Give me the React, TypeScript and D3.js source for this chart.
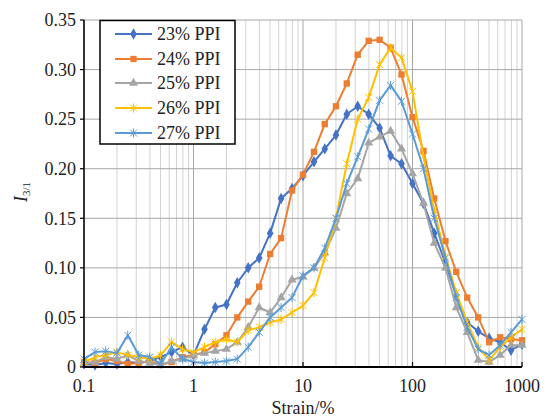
import React from 'react';
import * as d3 from 'd3';

const STRAIN = [0.1, 0.126, 0.158, 0.2, 0.251, 0.316, 0.398, 0.501, 0.631, 0.794, 1, 1.26, 1.58, 2, 2.51, 3.16, 3.98, 5.01, 6.31, 7.94, 10, 12.6, 15.8, 20, 25.1, 31.6, 39.8, 50.1, 63.1, 79.4, 100, 126, 158, 200, 251, 316, 398, 501, 631, 794, 1000];

const PPI23 = [0.003, 0.002, 0.004, 0.003, 0.005, 0.004, 0.006, 0.010, 0.015, 0.020, 0.012, 0.038, 0.060, 0.063, 0.085, 0.100, 0.110, 0.135, 0.170, 0.180, 0.193, 0.207, 0.220, 0.234, 0.255, 0.263, 0.255, 0.241, 0.213, 0.205, 0.185, 0.165, 0.135, 0.105, 0.072, 0.045, 0.036, 0.029, 0.025, 0.017, 0.023];
const PPI24 = [0.005, 0.004, 0.008, 0.006, 0.003, 0.004, 0.006, 0.002, 0.005, 0.010, 0.012, 0.015, 0.023, 0.032, 0.050, 0.066, 0.081, 0.114, 0.130, 0.178, 0.194, 0.217, 0.245, 0.263, 0.286, 0.315, 0.329, 0.330, 0.322, 0.295, 0.252, 0.218, 0.170, 0.127, 0.096, 0.070, 0.050, 0.025, 0.030, 0.028, 0.027];
const PPI25 = [0.003, 0.005, 0.010, 0.008, 0.012, 0.006, 0.004, 0.002, 0.006, 0.008, 0.012, 0.014, 0.016, 0.018, 0.025, 0.040, 0.060, 0.055, 0.070, 0.088, 0.091, 0.100, 0.115, 0.140, 0.175, 0.190, 0.226, 0.232, 0.238, 0.220, 0.195, 0.165, 0.125, 0.100, 0.060, 0.035, 0.007, 0.005, 0.012, 0.022, 0.022];
const PPI26 = [0.005, 0.010, 0.012, 0.015, 0.012, 0.010, 0.008, 0.012, 0.025, 0.018, 0.015, 0.020, 0.025, 0.028, 0.025, 0.037, 0.040, 0.045, 0.048, 0.055, 0.062, 0.075, 0.110, 0.150, 0.205, 0.250, 0.272, 0.305, 0.322, 0.312, 0.278, 0.212, 0.158, 0.112, 0.075, 0.045, 0.020, 0.007, 0.020, 0.030, 0.038];
const PPI27 = [0.008, 0.015, 0.016, 0.014, 0.032, 0.012, 0.010, 0.003, 0.020, 0.008, 0.005, 0.004, 0.005, 0.006, 0.008, 0.020, 0.035, 0.050, 0.060, 0.070, 0.092, 0.100, 0.120, 0.150, 0.185, 0.212, 0.240, 0.269, 0.284, 0.268, 0.235, 0.200, 0.150, 0.110, 0.070, 0.040, 0.018, 0.012, 0.022, 0.035, 0.048];

const SERIES_NAMES = ['23% PPI', '24% PPI', '25% PPI', '26% PPI', '27% PPI'];
const SERIES_VALUES = [PPI23, PPI24, PPI25, PPI26, PPI27];
const COLORS = ['#4472C4', '#ED7D31', '#A5A5A5', '#FFC000', '#5B9BD5'];
const MARKERS = ['diamond', 'square', 'triangle', 'star', 'star'];

const Y_TICKS = [0, 0.05, 0.1, 0.15, 0.2, 0.25, 0.3, 0.35];
const Y_LABELS = ['0', '0.05', '0.10', '0.15', '0.20', '0.25', '0.30', '0.35'];
const X_TICKS = [0.1, 1, 10, 100, 1000];
const X_LABELS = ['0.1', '1', '10', '100', '1000'];

const FONT = '"Liberation Serif", "Times New Roman", serif';

function Marker({ type, cx, cy, color }: { type: string; cx: number; cy: number; color: string }) {
  if (type === 'star') {
    const r = 3.5;
    return (
      <g stroke={color} strokeWidth={1}>
        <line x1={cx - r} y1={cy - r} x2={cx + r} y2={cy + r} />
        <line x1={cx - r} y1={cy + r} x2={cx + r} y2={cy - r} />
        <line x1={cx} y1={cy - r - 1} x2={cx} y2={cy + r + 1} />
      </g>
    );
  }
  const sym = type === 'diamond' ? d3.symbolDiamond : type === 'square' ? d3.symbolSquare : d3.symbolTriangle;
  const size = type === 'diamond' ? 38 : type === 'square' ? 40 : 36;
  const path = d3.symbol().type(sym).size(size)() || '';
  return <path d={path} transform={`translate(${cx},${cy})`} fill={color} />;
}

export default function App() {
  const L = 84, R = 522, T = 20, B = 367;
  const x = d3.scaleLog().domain([0.1, 1000]).range([L, R]);
  const y = d3.scaleLinear().domain([0, 0.35]).range([B, T]);

  const minor: number[] = [];
  [0.1, 1, 10, 100].forEach((d) => {
    for (let m = 2; m <= 9; m++) minor.push(d * m);
  });

  const line = d3
    .line<number>()
    .x((_, i) => x(STRAIN[i]))
    .y((v) => y(v));

  const legendRows = [34, 59, 83, 108, 133];

  return (
    <svg width={547} height={417} style={{ position: 'absolute', left: 0, top: 0, background: '#fff' }} fontFamily={FONT}>
      <rect x={0} y={0} width={547} height={417} fill="#fff" />
      {/* minor vertical gridlines */}
      {minor.map((v, i) => (
        <line key={'mn' + i} x1={x(v)} x2={x(v)} y1={T} y2={B} stroke="#d2d2d2" strokeWidth={1} />
      ))}
      {/* major vertical gridlines */}
      {X_TICKS.map((v, i) => (
        <line key={'mj' + i} x1={x(v)} x2={x(v)} y1={T} y2={B} stroke="#a8a8a8" strokeWidth={1} />
      ))}
      {/* horizontal gridlines */}
      {Y_TICKS.map((v, i) => (
        <line key={'hy' + i} x1={L} x2={R} y1={y(v)} y2={y(v)} stroke="#a8a8a8" strokeWidth={1} />
      ))}

      {/* series */}
      {SERIES_VALUES.map((vals, s) => (
        <g key={'s' + s}>
          <path d={line(vals) || ''} fill="none" stroke={COLORS[s]} strokeWidth={2} strokeLinejoin="round" />
          {vals.map((v, i) => (
            <Marker key={i} type={MARKERS[s]} cx={x(STRAIN[i])} cy={y(v)} color={COLORS[s]} />
          ))}
        </g>
      ))}

      {/* axes */}
      <line x1={L} x2={L} y1={T} y2={B + 1} stroke="#000" strokeWidth={1.5} />
      <line x1={L} x2={R} y1={B} y2={B} stroke="#000" strokeWidth={2} />
      {Y_TICKS.map((v, i) => (
        <line key={'yt' + i} x1={L - 4} x2={L} y1={y(v)} y2={y(v)} stroke="#000" strokeWidth={1.2} />
      ))}
      {X_TICKS.map((v, i) => (
        <line key={'xt' + i} x1={x(v)} x2={x(v)} y1={B - 5} y2={B} stroke="#000" strokeWidth={1.2} />
      ))}

      {/* tick labels */}
      {Y_TICKS.map((v, i) => (
        <text key={'yl' + i} x={76} y={y(v)} dy="0.35em" textAnchor="end" fontSize={18} fill="#222">
          {Y_LABELS[i]}
        </text>
      ))}
      {X_TICKS.map((v, i) => (
        <text key={'xl' + i} x={x(v)} y={392} textAnchor="middle" fontSize={18} fill="#222">
          {X_LABELS[i]}
        </text>
      ))}
      <text x={(L + R) / 2} y={414} textAnchor="middle" fontSize={18} fill="#222">
        Strain/%
      </text>
      <text transform="translate(27,192) rotate(-90)" textAnchor="middle" fontSize={18} fill="#222">
        <tspan fontStyle="italic">I</tspan>
        <tspan fontSize={11} dy={3}>3/1</tspan>
      </text>

      {/* legend */}
      <rect x={100} y={20.5} width={135} height={123.5} fill="#fff" stroke="#000" strokeWidth={1.5} />
      {SERIES_NAMES.map((name, s) => (
        <g key={'lg' + s}>
          <line x1={115} x2={152} y1={legendRows[s]} y2={legendRows[s]} stroke={COLORS[s]} strokeWidth={2} />
          <Marker type={MARKERS[s]} cx={133.5} cy={legendRows[s]} color={COLORS[s]} />
          <text x={157} y={legendRows[s]} dy="0.35em" fontSize={18} fill="#222">
            {name}
          </text>
        </g>
      ))}
    </svg>
  );
}
